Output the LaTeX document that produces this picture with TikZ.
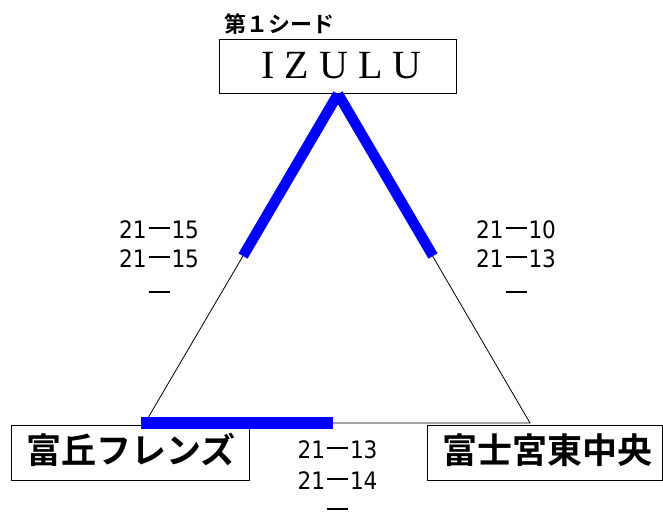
\documentclass[tikz,border=0pt]{standalone}
\usepackage{fontspec}
\newfontfamily\cjkb{Noto Sans CJK JP Bold}
\newfontfamily\serifz{Liberation Serif}
\newfontfamily\scorefont{DejaVu Sans Condensed}
\newcommand\scdash{\kern2pt\rule[9.5pt]{21pt}{1.8pt}\kern2pt}
\definecolor{winblue}{RGB}{0,0,255}
\begin{document}
\begin{tikzpicture}[x=1pt,y=-1pt,
  teambox/.style={draw=black,line width=1pt,inner sep=0pt},
  score/.style={font=\scorefont\fontsize{24}{24}\selectfont,inner sep=0pt,anchor=base},
  thinline/.style={draw=black,line width=0.8pt},
  winline/.style={draw=winblue,line width=10.5pt,line cap=butt}]
\useasboundingbox (0,0) rectangle (663,513);
% boxes
\node[teambox,minimum width=237pt,minimum height=54pt] (izulu) at (337.5,67) {};
\node[anchor=base,inner sep=0pt,font=\serifz\fontsize{40}{40}\selectfont] (izulut) at (341.5,79) {I Z U L U};
\node[anchor=base west,inner sep=0pt,font=\cjkb\fontsize{22}{22}\selectfont] (seed) at (224,33) {第１シード};
\node[teambox,minimum width=238pt,minimum height=55pt] (tomioka) at (130,452.5) {};
\node[inner sep=0pt,font=\cjkb\fontsize{35}{35}\selectfont] (tomiokat) at (131,450) {富丘フレンズ};
\node[teambox,minimum width=235pt,minimum height=55pt] (fuji) at (545,452.5) {};
\node[inner sep=0pt,font=\cjkb\fontsize{35}{35}\selectfont] (fujit) at (547,450) {富士宮東中央};
% triangle points
\coordinate (apex) at (338,94);
\coordinate (bl) at (145,423);
\coordinate (br) at (530,423);
\coordinate (lb) at (243,256);
\coordinate (rb) at (433,256);
\coordinate (bs) at (141,423);
\coordinate (be) at (333,423);
\draw[thinline] (apex) -- (bl) -- (br) -- cycle;
\draw[winline] (apex) -- (lb);
\draw[winline] (apex) -- (rb);
\draw[winline,line width=12pt] (bs) -- (be);
% scores
\node[score] (l1) at (159,238) {21\scdash 15};
\node[score] (l2) at (159,267) {21\scdash 15};
\node[score] (l3) at (159,302.5) {\scdash};
\node[score] (r1) at (516,238) {21\scdash 10};
\node[score] (r2) at (516,267) {21\scdash 13};
\node[score] (r3) at (516,302.5) {\scdash};
\node[score] (b1) at (337.5,458) {21\scdash 13};
\node[score] (b2) at (337.5,489) {21\scdash 14};
\node[score] (b3) at (337.5,519.5) {\scdash};
\end{tikzpicture}
\end{document}
